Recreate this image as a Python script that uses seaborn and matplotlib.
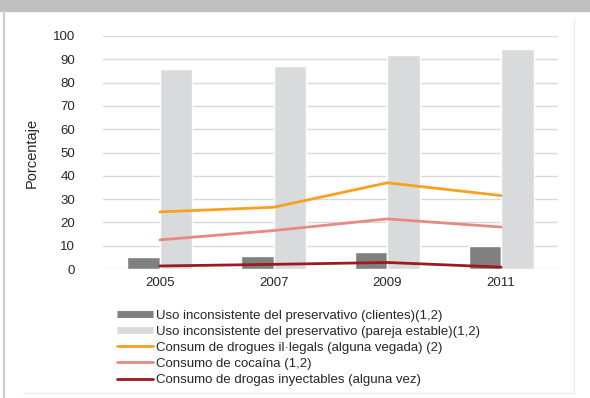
import pandas as pd
import seaborn as sns
import matplotlib.pyplot as plt
from matplotlib.lines import Line2D
from matplotlib.patches import Rectangle

# Data
years = ['2005', '2007', '2009', '2011']
condom_clients = [5.0, 5.5, 7.5, 10.0]
condom_partner = [86.0, 87.0, 92.0, 94.5]
illegal_drugs = [24.5, 26.5, 37.0, 31.5]
cocaine = [12.5, 16.5, 21.5, 18.0]
injected = [1.3, 2.0, 2.8, 0.8]

bar_labels = ['Uso inconsistente del preservativo (clientes)(1,2)',
              'Uso inconsistente del preservativo (pareja estable)(1,2)']
line_labels = ['Consum de drogues il·legals (alguna vegada) (2)',
               'Consumo de cocaína (1,2)',
               'Consumo de drogas inyectables (alguna vez)']

bar_colors = ['#808080', '#d9dadc']
line_colors = ['#f7a11f', '#e68a82', '#9b1b20']

bars = pd.DataFrame({
    'year': years * 2,
    'value': condom_clients + condom_partner,
    'serie': [bar_labels[0]] * 4 + [bar_labels[1]] * 4,
})

sns.set_theme(style='white')
plt.rcParams['font.family'] = ['Liberation Sans', 'DejaVu Sans']

fig = plt.figure(figsize=(5.9, 3.98), dpi=100)
ax = fig.add_axes([103 / 590, 1 - 269 / 398, (558 - 103) / 590, (269 - 36) / 398])

sns.barplot(data=bars, x='year', y='value', hue='serie', palette=bar_colors,
            width=0.57, saturation=1, legend=False, ax=ax, zorder=2)

for vals, col, lab in zip([illegal_drugs, cocaine, injected], line_colors, line_labels):
    sns.lineplot(x=years, y=vals, color=col, linewidth=2, sort=False,
                 ax=ax, legend=False, zorder=3)

ax.set_ylim(0, 100)
ax.set_xlim(-0.5, 3.5)
ax.set_yticks(range(0, 101, 10))
ax.yaxis.grid(True, color='#d9d9d9', linewidth=1)
ax.set_axisbelow(True)
for s in ax.spines.values():
    s.set_visible(False)
ax.tick_params(axis='both', length=0, labelsize=9.5, labelcolor='#262626')
ax.tick_params(axis='y', pad=20)
ax.tick_params(axis='x', pad=6)
ax.set_xlabel('')
ax.set_ylabel('Porcentaje', fontsize=10.5, color='#262626', labelpad=10)

handles = [Line2D([], [], color=bar_colors[0], lw=5, solid_capstyle='butt'),
           Line2D([], [], color=bar_colors[1], lw=5, solid_capstyle='butt')]
handles += [Line2D([], [], color=c, lw=2) for c in line_colors]
fig.legend(handles, bar_labels + line_labels, loc='upper left',
           bbox_to_anchor=(112 / 590, 1 - 304 / 398), frameon=False,
           fontsize=9.5, handlelength=2.7, handletextpad=0.25,
           labelspacing=0.3, borderaxespad=0, labelcolor='#262626')

# panel decoration: top band and light frame
fig.add_artist(Rectangle((0, 1 - 11 / 398), 1, 11 / 398, transform=fig.transFigure,
                         color='#bfbfbf', zorder=0))
fig.add_artist(Line2D([3.5 / 590, 3.5 / 590], [0, 1 - 11 / 398], transform=fig.transFigure,
                      color='#cccccc', lw=1.5))
fig.add_artist(Line2D([574 / 590, 574 / 590], [1 - 393 / 398, 1 - 20 / 398],
                      transform=fig.transFigure, color='#ececec', lw=1))
fig.add_artist(Line2D([23 / 590, 574 / 590], [1 - 393 / 398, 1 - 393 / 398],
                      transform=fig.transFigure, color='#ececec', lw=1))

fig.savefig('out.png', dpi=100)
